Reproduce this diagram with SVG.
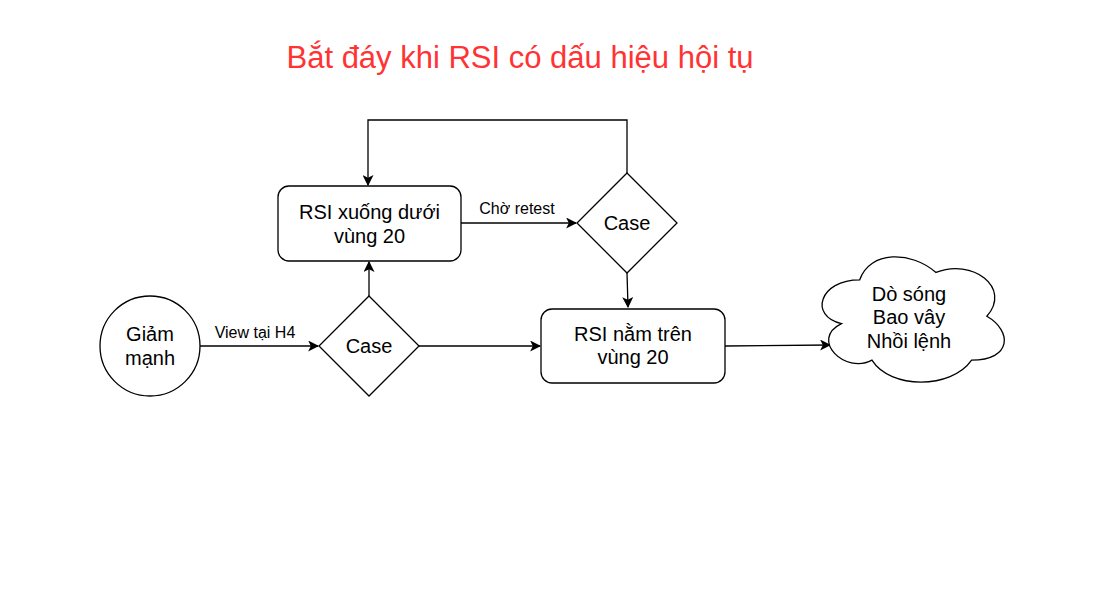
<svg xmlns="http://www.w3.org/2000/svg" width="1108" height="615" viewBox="0 0 1108 615">
<defs>
<style>
.shape{fill:#fff;stroke:#000;stroke-width:1.3}
.edge{fill:none;stroke:#000;stroke-width:1.3}
.t{font-family:"Liberation Sans",Arial,sans-serif;font-size:20px;fill:#000;text-anchor:middle}
.lbl{font-family:"Liberation Sans",Arial,sans-serif;font-size:16px;fill:#000;text-anchor:middle}
.title{font-family:"Liberation Sans",Arial,sans-serif;font-size:31px;fill:#ff3333;text-anchor:middle}
</style>
<marker id="ah" viewBox="0 0 10 10" refX="9" refY="5" markerWidth="11" markerHeight="11" markerUnits="userSpaceOnUse" orient="auto">
<path d="M0,0 L10,5 L0,10 L2.5,5 Z" fill="#000"/>
</marker>
</defs>
<rect width="1108" height="615" fill="#fff"/>
<text class="title" x="520" y="68">Bắt đáy khi RSI có dấu hiệu hội tụ</text>
<g id="connectors">
<path class="edge" d="M200,346 L318,346" marker-end="url(#ah)"/>
<text class="lbl" x="255" y="337.5">View tại H4</text>
<path class="edge" d="M369,296 L369,262" marker-end="url(#ah)"/>
<path class="edge" d="M461,223 L576,223" marker-end="url(#ah)"/>
<text class="lbl" x="517" y="214">Chờ retest</text>
<path class="edge" d="M627,173 L627,120 L368,120 L368,185" marker-end="url(#ah)"/>
<path class="edge" d="M627,273 L628,307" marker-end="url(#ah)"/>
<path class="edge" d="M419,346 L540,346" marker-end="url(#ah)"/>
<path class="edge" d="M725,346 L830,345" marker-end="url(#ah)"/>
</g>
<g id="giam-manh">
<circle class="shape" cx="150" cy="346" r="50"/>
<text class="t" x="150" y="341">Giảm</text>
<text class="t" x="150" y="365">mạnh</text>
</g>
<g id="case1">
<polygon class="shape" points="369,296 419,346 369,396 319,346"/>
<text class="t" x="369" y="353">Case</text>
</g>
<g id="rsi-duoi">
<rect class="shape" x="278" y="186" width="183" height="75" rx="11"/>
<text class="t" x="369.5" y="219">RSI xuống dưới</text>
<text class="t" x="369.5" y="243">vùng 20</text>
</g>
<g id="case2">
<polygon class="shape" points="627,173 677,223 627,273 577,223"/>
<text class="t" x="627" y="230">Case</text>
</g>
<g id="rsi-tren">
<rect class="shape" x="541" y="309" width="184" height="74" rx="11"/>
<text class="t" x="633" y="341">RSI nằm trên</text>
<text class="t" x="633" y="364">vùng 20</text>
</g>
<g id="cloud">
<path class="shape" vector-effect="non-scaling-stroke" transform="matrix(1.1297 0 0 1.1688 -119.7 -58.3)" d="M867,289.25 C831,289.25 822,320.5 850.8,326.75 C822,340.5 854.4,370.5 877.8,358 C894,383 948,383 966,358 C1002,358 1002,333 979.5,320.5 C1002,295.5 966,270.5 934.5,283 C912,264.25 876,264.25 867,289.25 Z"/>
<text class="t" x="909" y="301">Dò sóng</text>
<text class="t" x="909" y="324">Bao vây</text>
<text class="t" x="909" y="348">Nhồi lệnh</text>
</g>
</svg>
